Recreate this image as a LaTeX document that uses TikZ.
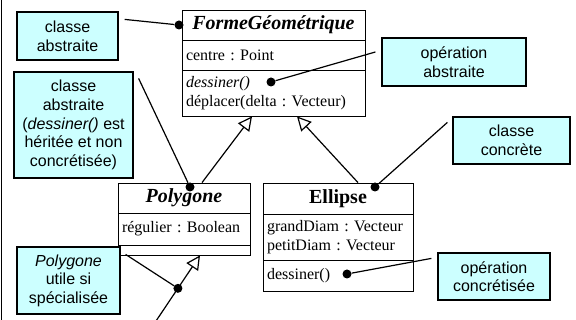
\documentclass[tikz,border=0pt]{standalone}
\usepackage{fontspec}
\setmainfont{Liberation Serif}
\newfontfamily\notefont{Liberation Sans}
\usetikzlibrary{arrows.meta}
\frenchspacing
\definecolor{notecyan}{RGB}{204,255,255}
\tikzset{
  note/.style={draw, line width=1.2pt, fill=notecyan, align=center, inner sep=0pt,
    font=\notefont\fontsize{16}{18.6}\selectfont},
  clsname/.style={draw, line width=0.8pt, inner sep=0pt, font=\fontsize{20}{22}\selectfont\bfseries},
  clsbody/.style={draw, line width=0.8pt, inner xsep=4pt, inner ysep=0pt, align=left,
    font=\fontsize{16}{19}\selectfont},
  link/.style={line width=1.2pt},
  inherit/.style={line width=1.2pt, -{Triangle[open, length=14pt, width=14pt]}},
  dot/.style={circle, fill, inner sep=0pt, minimum size=9pt},
}
\begin{document}
\begin{tikzpicture}[x=1pt, y=-1pt]
\useasboundingbox (0,0) rectangle (576,320);
\draw[line width=1pt] (1.5,0) -- (1.5,320); % bord gauche

% classe FormeGéométrique
\node[clsname, minimum width=183pt, minimum height=30pt] (formename) at (273.5,25) {\itshape FormeGéométrique};
\node[clsbody, text width=175pt, minimum height=30pt] (formeattr) at (273.5,55) {centre : Point};
\node[clsbody, text width=175pt, minimum height=46pt] (formeops) at (273.5,93) {\textit{dessiner()}\\déplacer(delta : Vecteur)};

% classe Polygone
\node[clsname, minimum width=132pt, minimum height=30pt] (polyname) at (184,198) {\itshape Polygone};
\node[clsbody, text width=124pt, minimum height=32pt] (polyattr) at (184,229) {régulier : Boolean};
\node[clsbody, text width=124pt, minimum height=10pt] (polyops) at (184,250) {};

% classe Ellipse
\node[clsname, minimum width=150pt, minimum height=31pt] (ellname) at (338,198.5) {Ellipse};
\node[clsbody, text width=142pt, minimum height=46pt] (ellattr) at (338,237) {grandDiam : Vecteur\\petitDiam : Vecteur};
\node[clsbody, text width=142pt, minimum height=31pt] (ellops) at (338,275.5) {dessiner()};

% notes
\node[note, minimum width=101pt, minimum height=48pt] (abs1) at (67.5,36) {classe\\abstraite};
\node[note, minimum width=119pt, minimum height=106pt] (abs2) at (73.5,125) {classe\\abstraite\\(\textit{dessiner()} est\\héritée et non\\concrétisée)};
\node[note, minimum width=144pt, minimum height=48pt] (opab) at (454,62) {opération\\abstraite};
\node[note, minimum width=117pt, minimum height=47pt] (conc) at (511.5,140.5) {classe\\concrète};
\node[note, minimum width=112pt, minimum height=47pt] (opconc) at (494,276.5) {opération\\concrétisée};
\node[note, minimum width=103pt, minimum height=67pt] (util) at (68.5,280.5) {\textit{Polygone}\\utile si\\spécialisée};

% heritage
\draw[inherit] ([xshift=18pt]polyname.north) -- ([xshift=-21.5pt]formeops.south);
\draw[inherit] ([xshift=20pt]ellname.north) -- ([xshift=23.5pt]formeops.south);
\coordinate (souscl) at (154,324);
\draw[inherit] (souscl) -- coordinate[pos=0.52] (dF) ([xshift=16pt]polyops.south);

% points d'attache
\node[dot] (dA) at (179,25) {};
\node[dot] (dB) at (190,187) {};
\node[dot] (dC) at (271,82) {};
\node[dot] (dD) at (375,187) {};
\node[dot] (dE) at (347,274) {};
\node[dot] (dotF) at (dF) {};

% liens des notes
\draw[link] ([xshift=6pt,yshift=-8pt]abs1.north east) -- (dA);
\draw[link] ([xshift=5pt,yshift=-7pt]abs2.north east) -- (dB);
\draw[link] (dC) -- ([xshift=-6pt,yshift=10pt]opab.west);
\draw[link] ([xshift=-5pt,yshift=-6pt]conc.north west) -- (dD);
\draw[link] (dE) -- ([xshift=-6pt,yshift=-6pt]opconc.north west);
\draw[link] ([xshift=5pt,yshift=-8pt]util.north east) -- (dotF);
\end{tikzpicture}
\end{document}
